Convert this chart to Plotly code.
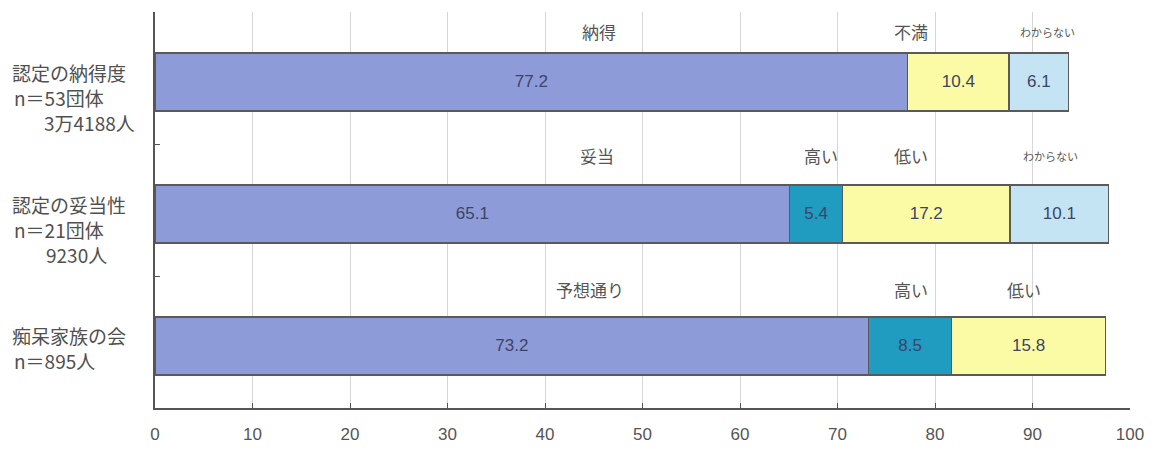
import plotly.graph_objects as go

# Survey groups (rows, top to bottom)
groups = ["認定の納得度", "認定の妥当性", "痴呆家族の会"]

# Share of answers (%) per colour band; None where the band is absent
main_share = [77.2, 65.1, 73.2]     # 納得 / 妥当 / 予想通り
high_share = [None, 5.4, 8.5]       # 高い
low_share = [10.4, 17.2, 15.8]      # 不満 / 低い
unknown_share = [6.1, 10.1, None]   # わからない

# Answer captions written above each row: (text, x position, font size)
row_captions = [
    [("納得", 45.5, 17), ("不満", 77.5, 17), ("わからない", 91.5, 11)],
    [("妥当", 45.3, 17), ("高い", 68.3, 17), ("低い", 77.5, 17), ("わからない", 91.8, 11)],
    [("予想通り", 44.6, 17), ("高い", 77.5, 17), ("低い", 89.1, 17)],
]
caption_offsets = [-0.35, -0.41, -0.4]

# Row titles drawn left of the axis: (text, left px, centre y px)
row_titles = [
    ("認定の納得度", 10, 72), ("n＝53団体", 12, 97), ("3万4188人", 42, 122),
    ("認定の妥当性", 10, 204), ("n＝21団体", 12, 229), ("9230人", 44, 254),
    ("痴呆家族の会", 10, 335), ("n＝895人", 12, 360),
]

x_ticks = list(range(0, 101, 10))

colors = ["#8e9bd9", "#1f9cc0", "#fbfba6", "#c4e3f3"]
series = [main_share, high_share, low_share, unknown_share]

fig = go.Figure()
for vals, col in zip(series, colors):
    fig.add_trace(go.Bar(
        y=groups, x=vals, orientation="h",
        marker=dict(color=col, line=dict(color="#5a5a5a", width=1.5)),
        width=0.44, offset=-0.19,
        text=[("" if v is None else f"{v:.1f}") for v in vals],
        textposition="inside", insidetextanchor="middle",
        textfont=dict(family="Liberation Sans Narrow, Arial Narrow, Liberation Sans", size=17,
                      color="#3d4468"),
        cliponaxis=False, showlegend=False, hoverinfo="skip",
    ))

W, H = 1155, 455
L, R, T, B = 155, 25, 12, 47
plot_w = W - L - R
plot_h = H - T - B

annotations = []
for i, caps in enumerate(row_captions):
    for text, xpos, size in caps:
        annotations.append(dict(
            x=xpos, y=i + caption_offsets[i], xref="x", yref="y", text=text,
            showarrow=False, xanchor="center", yanchor="middle",
            font=dict(family="Noto Sans CJK JP", size=size, color="#555555"),
        ))

for text, px, py in row_titles:
    annotations.append(dict(
        x=(px - L) / plot_w, y=1 - (py - T) / plot_h, xref="paper", yref="paper",
        text=text, showarrow=False, xanchor="left", yanchor="middle",
        font=dict(family="Noto Sans CJK JP", size=19, color="#505050"),
    ))

fig.update_layout(
    barmode="stack",
    width=W, height=H,
    margin=dict(l=L, r=R, t=T, b=B),
    paper_bgcolor="white", plot_bgcolor="white",
    annotations=annotations,
    xaxis=dict(
        range=[0, 100], tickvals=x_ticks, ticktext=[str(v) for v in x_ticks],
        showgrid=True, gridcolor="#d6d6d6", gridwidth=1,
        showline=True, linecolor="#555555", linewidth=2,
        ticks="inside", ticklen=5, tickcolor="#555555",
        ticklabelstandoff=10,
        tickfont=dict(family="Liberation Sans Narrow, Liberation Sans", size=17, color="#555555"),
        zeroline=False, fixedrange=True,
    ),
    yaxis=dict(
        categoryorder="array", categoryarray=groups,
        autorange="reversed", range=[2.5, -0.5],
        showticklabels=False, showgrid=False,
        showline=True, linecolor="#555555", linewidth=2,
        ticks="inside", tickson="boundaries", ticklen=5, tickcolor="#555555",
        fixedrange=True,
    ),
)

fig.write_html("out.html")
